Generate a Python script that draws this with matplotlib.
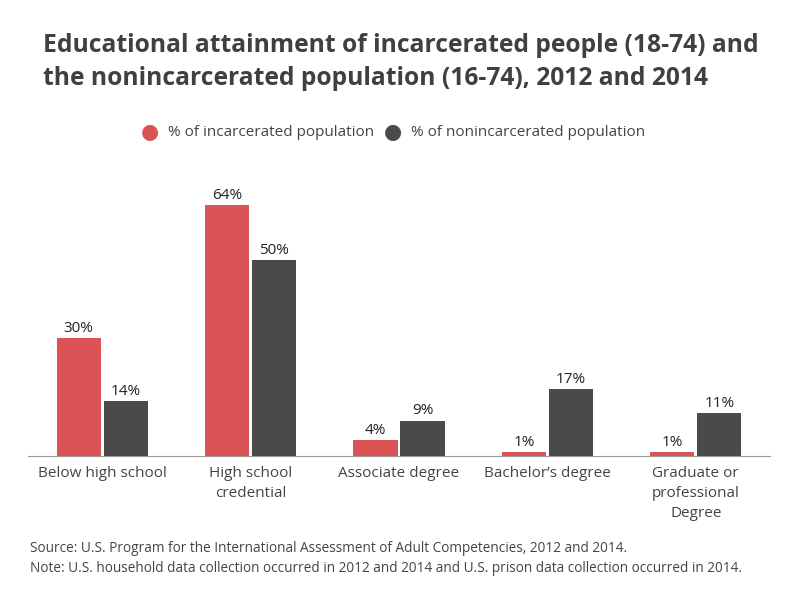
import matplotlib
matplotlib.use("Agg")
import matplotlib.pyplot as plt
import numpy as np

categories = ["Below high school", "High school\ncredential", "Associate degree",
              "Bachelor\u2019s degree", "Graduate or\nprofessional\nDegree"]
incarcerated = [30, 64, 4, 1, 1]
nonincarcerated = [14, 50, 9, 17, 11]
series_names = ["% of incarcerated population", "% of nonincarcerated population"]
colors = ["#DC5355", "#4A4A4A"]

plt.rcParams['font.family'] = ['Open Sans', 'DejaVu Sans']

fig = plt.figure(figsize=(8, 6), dpi=100)
W, H = 800, 600
left, right, bottom, top = 28, 770, 456, 170
ax = fig.add_axes([left / W, 1 - bottom / H, (right - left) / W, (bottom - top) / H])

x = np.arange(len(categories))
bw = 0.297
gap = 0.01
ax.bar(x - bw / 2 - gap, incarcerated, bw, color=colors[0])
ax.bar(x + bw / 2 + gap, nonincarcerated, bw, color=colors[1])
for xi, v in zip(x, incarcerated):
    ax.text(xi - bw / 2 - gap, v + 0.6, f"{v}%", ha="center", va="bottom", fontsize=11, color="#222222")
for xi, v in zip(x, nonincarcerated):
    ax.text(xi + bw / 2 + gap, v + 0.6, f"{v}%", ha="center", va="bottom", fontsize=11, color="#222222")

ax.set_xlim(-0.5, len(categories) - 0.5)
ax.set_ylim(0, 73)
for s in ["top", "right", "left"]:
    ax.spines[s].set_visible(False)
ax.spines["bottom"].set_color("#999999")
ax.set_yticks([])
ax.set_xticks(x)
ax.set_xticklabels(categories, fontsize=11, color="#444444", linespacing=1.45)
ax.tick_params(axis="x", length=0, pad=7)

fig.text(43 / W, 1 - 62 / H, "Educational attainment of incarcerated people (18-74) and\nthe nonincarcerated population (16-74), 2012 and 2014",
         fontsize=17.7, fontweight="bold", color="#404040", va="center", ha="left", linespacing=1.45)

# legend
ly = 1 - 132 / H
fig.text(150 / W, ly, "\u25CF", fontsize=15, color=colors[0], ha="center", va="center",
         family="DejaVu Sans")
fig.text(168 / W, ly, series_names[0], fontsize=11, color="#444444", ha="left", va="center")
fig.text(393 / W, ly, "\u25CF", fontsize=15, color=colors[1], ha="center", va="center",
         family="DejaVu Sans")
fig.text(411 / W, ly, series_names[1], fontsize=11, color="#444444", ha="left", va="center")

fig.text(30 / W, 1 - 549 / H, "Source: U.S. Program for the International Assessment of Adult Competencies, 2012 and 2014.",
         fontsize=9.8, color="#444444", ha="left", va="center")
fig.text(30 / W, 1 - 568 / H, "Note: U.S. household data collection occurred in 2012 and 2014 and U.S. prison data collection occurred in 2014.",
         fontsize=9.8, color="#444444", ha="left", va="center")

fig.savefig("out.png", dpi=100)
